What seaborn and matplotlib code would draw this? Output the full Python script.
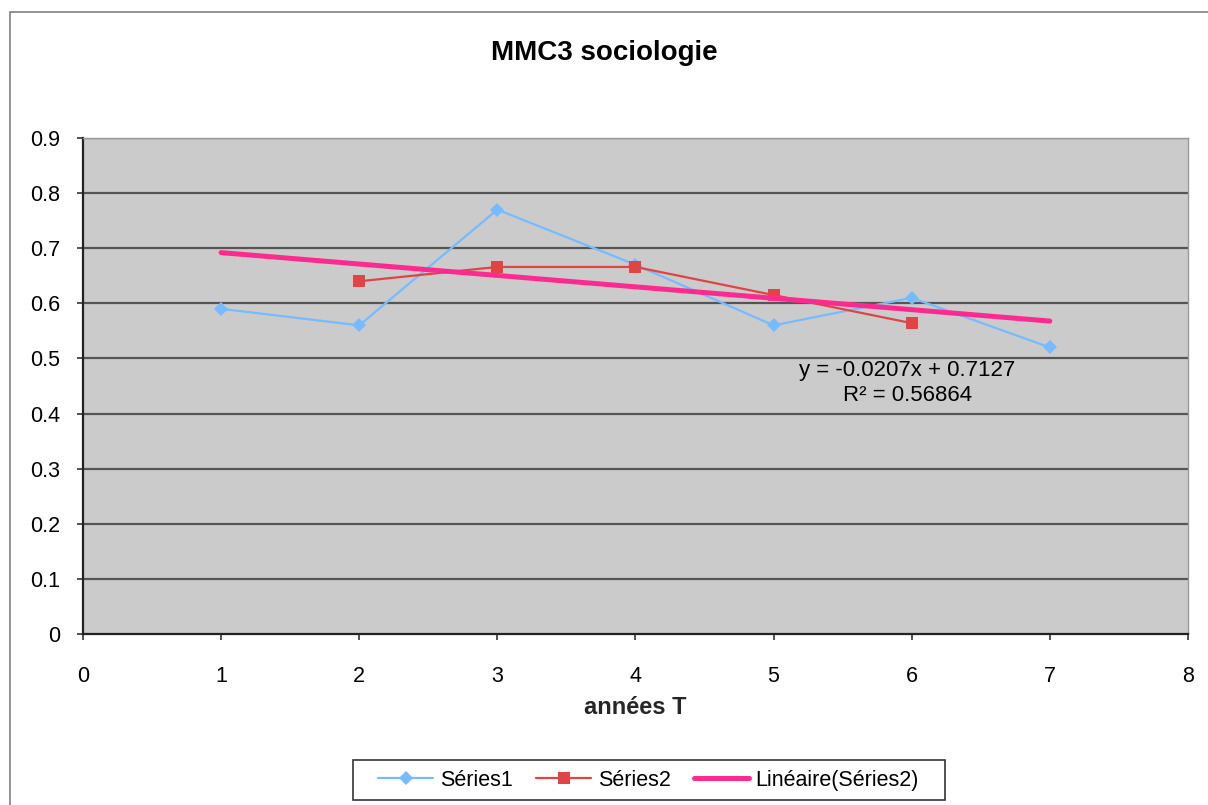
import pandas as pd
import matplotlib.pyplot as plt
import seaborn as sns
from matplotlib.patches import Rectangle
from matplotlib.lines import Line2D

# données
annees1 = [1, 2, 3, 4, 5, 6, 7]
series1 = [0.59, 0.56, 0.77, 0.67, 0.56, 0.61, 0.52]
annees2 = [2, 3, 4, 5, 6]
series2 = [0.64, 0.666, 0.666, 0.615, 0.564]
pente = -0.0207
origine = 0.7127
r2 = 0.56864
annees_tendance = [1, 7]

df1 = pd.DataFrame({"x": annees1, "y": series1})
df2 = pd.DataFrame({"x": annees2, "y": series2})
df_t = pd.DataFrame({"x": annees_tendance, "y": [pente * a + origine for a in annees_tendance]})

sns.set_style("ticks")
plt.rcParams["font.family"] = ["Liberation Sans", "DejaVu Sans"]
plt.rcParams["text.color"] = "black"
plt.rcParams["xtick.color"] = "black"
plt.rcParams["ytick.color"] = "black"

fig = plt.figure(figsize=(12.08, 8.05), dpi=100)
ax = fig.add_axes([0.0687, 0.2124, 0.9147, 0.6162])
ax.set_facecolor("#cbcbcb")

# cadre extérieur du graphique
fig.patches.append(Rectangle((10 / 1208, -0.1), 1.2, (805 - 12) / 805 + 0.1, transform=fig.transFigure,
                             fill=False, edgecolor="#808080", linewidth=1.2, zorder=0))

for v in [0.1 * i for i in range(1, 10)]:
    ax.axhline(v, color="#555555", linewidth=1.6, zorder=1)

bleu = "#77bbff"
rouge = "#e04444"
rose = "#ff2a8f"

sns.lineplot(data=df1, x="x", y="y", ax=ax, color=bleu, linewidth=1.6, marker="D",
             markersize=7, markeredgewidth=0, zorder=3)
sns.lineplot(data=df2, x="x", y="y", ax=ax, color=rouge, linewidth=1.6, marker="s",
             markersize=9, markeredgewidth=0, zorder=4)
sns.lineplot(data=df_t, x="x", y="y", ax=ax, color=rose, linewidth=3.6, zorder=5)

ax.set_xlim(0, 8)
ax.set_ylim(0, 0.9)
ax.set_xticks(range(0, 9))
ax.set_yticks([0.1 * i for i in range(10)])
ax.set_yticklabels(["0"] + [f"{0.1 * i:.1f}" for i in range(1, 10)])
ax.tick_params(axis="both", labelsize=15.5, length=4.3, width=1.2, color="#333333", direction="out")
ax.tick_params(axis="x", pad=18.5)
ax.tick_params(axis="y", pad=12)

for s in ["left", "bottom"]:
    ax.spines[s].set_color("#222222")
    ax.spines[s].set_linewidth(1.6)
for s in ["top", "right"]:
    ax.spines[s].set_color("#999999")
    ax.spines[s].set_linewidth(1)

ax.set_xlabel("années T", fontsize=17, fontweight="bold")
ax.xaxis.set_label_coords(0.5, -0.149)
ax.xaxis.label.set_va("center")
ax.set_ylabel("")
fig.text(0.5, 0.934, "MMC3 sociologie", ha="center", va="center", fontsize=20, fontweight="bold")

ax.text(5.97, 0.4555, f"y = {pente}x + {origine}\nR² = {r2}", ha="center", va="center",
        fontsize=16, linespacing=1.22)

handles = [
    Line2D([], [], color=bleu, linewidth=1.6, marker="D", markersize=7, markeredgewidth=0),
    Line2D([], [], color=rouge, linewidth=1.6, marker="s", markersize=9, markeredgewidth=0),
    Line2D([], [], color=rose, linewidth=3.6),
]
leg = fig.legend(handles, ["Séries1", "Séries2", "Linéaire(Séries2)"], loc="center",
                 bbox_to_anchor=(0.537, 0.031), ncol=3, fontsize=15.5, frameon=False,
                 handlelength=2.55, handletextpad=0.3, columnspacing=1.1, borderpad=0.45)

# cadre de légende un peu plus large que le contenu
fig.canvas.draw()
bb = leg.get_window_extent()
fig.patches.append(Rectangle((bb.x0 - 16, bb.y0), bb.width + 32, bb.height, transform=None,
                             fill=False, edgecolor="#333333", linewidth=1.2, zorder=1))

plt.savefig("out.png", dpi=100)
plt.close()
